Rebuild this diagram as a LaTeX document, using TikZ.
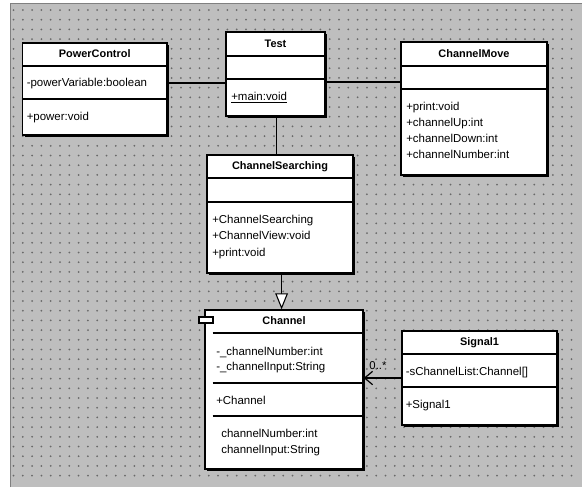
\documentclass[tikz,border=0pt]{standalone}
\usepackage{fontspec}
\setmainfont{Liberation Sans}
\usetikzlibrary{arrows.meta,fit,shadows}
\definecolor{bggray}{RGB}{190,190,190}
\definecolor{dotgray}{RGB}{105,105,105}
\tikzset{
  classbox/.style={draw, fill=white, line width=1pt, inner sep=0pt,
    drop shadow={shadow xshift=1.6pt, shadow yshift=-1.6pt, fill=black, opacity=1}},
  divider/.style={line width=0.8pt},
  title/.style={inner sep=0pt, font=\bfseries\fontsize{8.2}{10}\selectfont, text height=6.3pt, text depth=1.7pt},
  member/.style={anchor=west, inner sep=0pt, font=\fontsize{8.6}{10}\selectfont, text height=6.5pt, text depth=1.8pt},
  link/.style={line width=0.9pt}
}
\begin{document}
\begin{tikzpicture}[x=0.75pt, y=-0.75pt]
    \useasboundingbox (0,0) rectangle (582,487);
    \fill[white] (0,0) rectangle (582,487);
    \fill[bggray] (10,3) rectangle (582,487);
    \draw[gray, line width=0.6pt] (10,487) -- (10,3) -- (582,3);
    \foreach \x in {0,...,60}
      \foreach \y in {0,...,48}
        \fill[dotgray] (13.5+9.3*\x, 10+9.7*\y) circle [radius=0.75pt];

    \node[classbox, fit={(22.5,43) (167,135)}] (pc) {};
    \draw[divider] (pc.west |- 0,66) -- (pc.east |- 0,66);
    \draw[divider] (pc.west |- 0,99) -- (pc.east |- 0,99);
    \node[title] (pcname) at (pc.north |- 0,54.5) {PowerControl};
    \node[member] (pcattr) at (26.5,83) {-powerVariable:boolean};
    \node[member] (pcop) at (26.5,117) {+power:void};

    \node[classbox, fit={(226,32) (325,116)}] (test) {};
    \draw[divider] (test.west |- 0,56) -- (test.east |- 0,56);
    \draw[divider] (test.west |- 0,79) -- (test.east |- 0,79);
    \node[title] (testname) at (test.north |- 0,44) {Test};
    \node[member] (testop) at (231,97) {\underline{+main:void}};

    \node[classbox, fit={(401,42) (547,175)}] (cm) {};
    \draw[divider] (cm.west |- 0,66) -- (cm.east |- 0,66);
    \draw[divider] (cm.west |- 0,89) -- (cm.east |- 0,89);
    \node[title] (cmname) at (cm.north |- 0,54) {ChannelMove};
    \foreach \m [count=\i] in {+print:void, +channelUp:int, +channelDown:int, +channelNumber:int}
      \node[member] (cmop\i) at (406,91+16*\i) {\m};

    \node[classbox, fit={(207,155) (353,273)}] (cs) {};
    \draw[divider] (cs.west |- 0,178) -- (cs.east |- 0,178);
    \draw[divider] (cs.west |- 0,202) -- (cs.east |- 0,202);
    \node[title] (csname) at (cs.north |- 0,166.5) {ChannelSearching};
    \foreach \m [count=\i] in {+ChannelSearching, +ChannelView:void, +print:void}
      \node[member] (csop\i) at (212,203.5+16.5*\i) {\m};

    \node[classbox, fit={(205,310) (363,469)}] (ch) {};
    \draw[divider] (212.5,333) -- (ch.east |- 0,333);
    \draw[divider] (212.5,383) -- (ch.east |- 0,383);
    \draw[divider] (212.5,416) -- (ch.east |- 0,416);
    \draw[fill=white, line width=0.9pt] (199,317) rectangle (213,323);
    \node[title] (chname) at (ch.north |- 0,321.5) {Channel};
    \foreach \m [count=\i] in {-\_channelNumber:int, -\_channelInput:String}
      \node[member] (chattr\i) at (216,336.5+15.5*\i) {\m};
    \node[member] (chop) at (216,401) {+Channel};
    \foreach \m [count=\i] in {channelNumber:int, channelInput:String}
      \node[member] (chprop\i) at (221,418+16*\i) {\m};

    \node[classbox, fit={(402,331) (557,425)}] (sig) {};
    \draw[divider] (sig.west |- 0,354) -- (sig.east |- 0,354);
    \draw[divider] (sig.west |- 0,387) -- (sig.east |- 0,387);
    \node[title] (signame) at (sig.north |- 0,342.5) {Signal1};
    \node[member] (sigattr) at (405.5,372) {-sChannelList:Channel[]};
    \node[member] (sigop) at (405.5,405) {+Signal1};

    \draw[link] ([yshift=4.5pt]pc.east) -- ([yshift=4.5pt]pc.east -| test.west);
    \draw[link] ([yshift=-6pt]test.east) -- ([yshift=-6pt]test.east -| cm.west);
    \draw[link] ([xshift=1pt]test.south) -- ([xshift=1pt]test.south |- cs.north);
    \draw[link, -{Triangle[length=12pt, width=9.5pt, fill=white, line width=0.8pt]}]
      ([xshift=1.2pt]cs.south) -- ([xshift=1.2pt]cs.south |- ch.north);
    \draw[link, -{Straight Barb[length=6pt, width=10pt]}] (sig.west) -- (sig.west -| ch.east);
    \node[font=\fontsize{8.5}{9}\selectfont, inner sep=0pt] (mult) at (378,366) {0..*};
\end{tikzpicture}
\end{document}
